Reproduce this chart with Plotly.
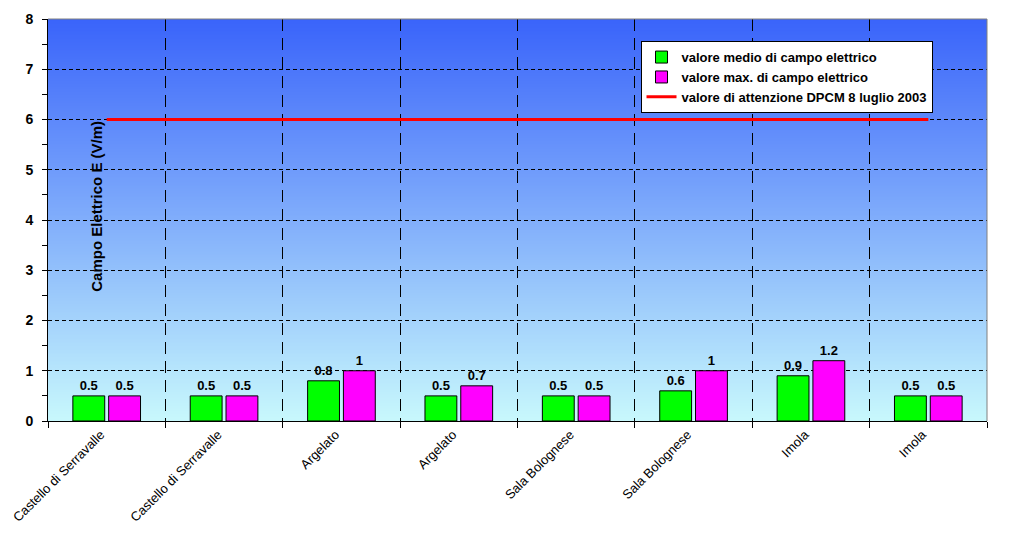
import base64
import struct
import zlib

import plotly.graph_objects as go

# ---------------- data ----------------
locations = [
    "Castello di Serravalle", "Castello di Serravalle", "Argelato", "Argelato",
    "Sala Bolognese", "Sala Bolognese", "Imola", "Imola",
]
mean_values = [0.5, 0.5, 0.8, 0.5, 0.5, 0.6, 0.9, 0.5]
max_values = [0.5, 0.5, 1, 0.7, 0.5, 1, 1.2, 0.5]
limit_values = [6, 6, 6, 6, 6, 6, 6, 6]

name_mean = "valore medio di campo elettrico"
name_max = "valore max. di campo elettrico"
name_limit = "valore di attenzione DPCM 8 luglio 2003"
y_title = "Campo Elettrico E (V/m)"

FONT = "Liberation Sans, Arial, sans-serif"


def gradient_png(height, top, bottom):
    rows = b""
    for i in range(height):
        t = i / (height - 1)
        c = bytes(int(round(top[k] + (bottom[k] - top[k]) * t)) for k in range(3))
        rows += b"\x00" + c

    def chunk(tag, data):
        return (struct.pack(">I", len(data)) + tag + data
                + struct.pack(">I", zlib.crc32(tag + data) & 0xFFFFFFFF))

    png = b"\x89PNG\r\n\x1a\n"
    png += chunk(b"IHDR", struct.pack(">IIBBBBB", 1, height, 8, 2, 0, 0, 0))
    png += chunk(b"IDAT", zlib.compress(rows))
    png += chunk(b"IEND", b"")
    return "data:image/png;base64," + base64.b64encode(png).decode()


bg = gradient_png(256, (58, 100, 250), (200, 248, 252))

xpos = list(range(len(locations)))

label_font = dict(family=FONT, size=13, color="black", weight="bold")

fig = go.Figure()
fig.add_trace(go.Bar(
    x=xpos, y=mean_values, name=name_mean,
    marker=dict(color="#00ff00", line=dict(color="black", width=1)),
    texttemplate="%{y}", textposition="outside", textfont=label_font,
    cliponaxis=False,
))
fig.add_trace(go.Bar(
    x=xpos, y=max_values, name=name_max,
    marker=dict(color="#ff00ff", line=dict(color="black", width=1)),
    texttemplate="%{y}", textposition="outside", textfont=label_font,
    cliponaxis=False,
))
fig.add_trace(go.Scatter(
    x=xpos, y=limit_values, name=name_limit, mode="lines",
    line=dict(color="#ff0000", width=3),
))

fig.update_layout(
    width=1012, height=530,
    margin=dict(l=40, r=33, t=11, b=117, autoexpand=False),
    paper_bgcolor="white",
    plot_bgcolor="rgba(0,0,0,0)",
    font=dict(family=FONT, color="black"),
    barmode="group", bargap=0.39, bargroupgap=0.11,
    showlegend=True,
    legend=dict(
        x=0.631, y=0.945, xanchor="left", yanchor="top",
        bgcolor="white", bordercolor="black", borderwidth=1,
        font=dict(family=FONT, size=13, color="black", weight="bold"),
        tracegroupgap=0, itemwidth=30,
    ),
    images=[dict(
        source=bg, xref="paper", yref="paper", x=0, y=1, sizex=1, sizey=1,
        sizing="stretch", xanchor="left", yanchor="top", layer="below",
    )],
    annotations=[dict(
        text=y_title, xref="paper", yref="paper", x=0.052, y=0.535,
        xanchor="center", yanchor="middle",
        textangle=-90, showarrow=False,
        font=dict(family=FONT, size=15, color="black", weight="bold"),
    )],
    shapes=[
        dict(type="line", xref="paper", yref="paper", x0=1, x1=1, y0=0, y1=1,
             line=dict(color="#808080", width=1)),
        dict(type="line", xref="paper", yref="paper", x0=0, x1=1, y0=1, y1=1,
             line=dict(color="#808080", width=1)),
    ],
)

fig.update_xaxes(
    range=[-0.5, 7.5], automargin=False,
    tickvals=xpos, ticktext=locations, tickangle=-45,
    tickfont=dict(family=FONT, size=13, color="black"),
    ticks="", showgrid=False, zeroline=False, ticklabelshift=-6,
    showline=True, linecolor="black", linewidth=1,
    minor=dict(tick0=-0.5, dtick=1, ticks="outside", ticklen=6,
               tickcolor="black", showgrid=True, gridcolor="black",
               gridwidth=1, griddash="12px,7px"),
)
fig.update_yaxes(
    range=[0, 8], dtick=1, automargin=False,
    tickfont=dict(family=FONT, size=14, color="black", weight="bold"),
    ticks="outside", ticklen=5, tickcolor="black", ticklabelstandoff=6,
    showgrid=True, gridcolor="black", gridwidth=1, griddash="4px,3px",
    zeroline=False, showline=True, linecolor="black", linewidth=1,
    minor=dict(dtick=0.5, ticks="outside", ticklen=5, tickcolor="black",
               showgrid=False),
)

fig.write_html("out.html")
